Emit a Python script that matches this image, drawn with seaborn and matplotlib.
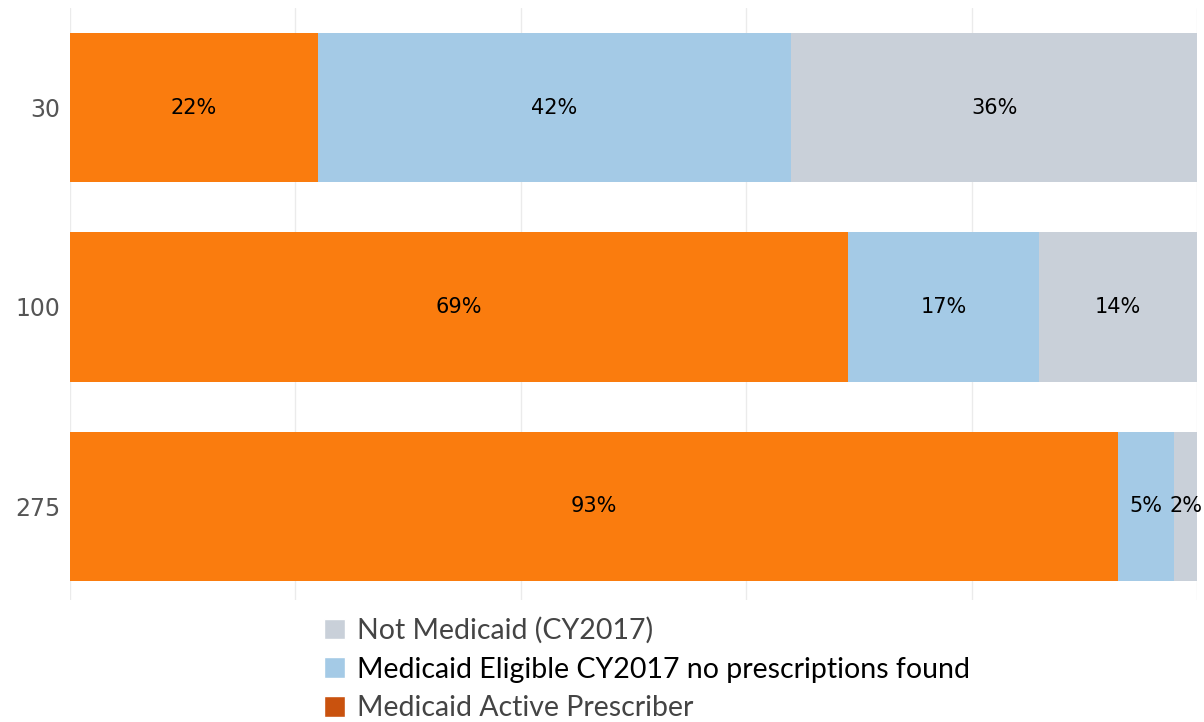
import numpy as np
import pandas as pd
import matplotlib
matplotlib.use("Agg")
import matplotlib.pyplot as plt
import seaborn as sns
from matplotlib.patches import Patch

# data (percent of prescribers per group)
groups = ["30", "100", "275"]
active = [22, 69, 93]
eligible = [42, 17, 5]
not_medicaid = [36, 14, 2]

series_names = ["Not Medicaid (CY2017)",
                "Medicaid Eligible CY2017 no prescriptions found",
                "Medicaid Active Prescriber"]

c_orange = "#FA7C0E"
c_blue = "#A4CAE6"
c_grey = "#C9D0D9"
c_legend_orange = "#C9520E"

df = pd.DataFrame({"group": groups, "active": active,
                   "eligible": eligible, "not_medicaid": not_medicaid})
df["cum_eligible"] = df["active"] + df["eligible"]
df["cum_total"] = df["cum_eligible"] + df["not_medicaid"]

sns.set_theme(style="white")
plt.rcParams["font.family"] = ["Open Sans", "DejaVu Sans"]

fig = plt.figure(figsize=(12.04, 7.22), dpi=100)
ax = fig.add_axes([70 / 1204, 1 - 600 / 722, 1127 / 1204, 592 / 722])

# stacked bars drawn back to front from cumulative totals
bar_kw = dict(orient="h", width=0.75, saturation=1, linewidth=0, ax=ax)
sns.barplot(data=df, x="cum_total", y="group", color=c_grey, zorder=2, **bar_kw)
sns.barplot(data=df, x="cum_eligible", y="group", color=c_blue, zorder=3, **bar_kw)
sns.barplot(data=df, x="active", y="group", color=c_orange, zorder=4, **bar_kw)

# segment labels
for i, row in df.iterrows():
    segs = [(0, row["active"]), (row["active"], row["eligible"]),
            (row["cum_eligible"], row["not_medicaid"])]
    for start, w in segs:
        ax.text(start + w / 2, i, f"{w}%", ha="center", va="center",
                fontsize=15, color="black", zorder=6,
                family=["DejaVu Sans"])

ax.set_xlim(0, 100)
ax.set_ylim(2.47, -0.5)
ax.set_xticks(np.arange(0, 101, 20))
ax.xaxis.grid(True, color="#EBEBEB", linewidth=1)
ax.set_axisbelow(True)
ax.tick_params(axis="x", labelbottom=False, length=0)
ax.tick_params(axis="y", length=0, labelsize=17, labelcolor="#555555", pad=7)
for lbl in ax.get_yticklabels():
    lbl.set_family(["DejaVu Sans"])
ax.set_xlabel("")
ax.set_ylabel("")
for s in ax.spines.values():
    s.set_visible(False)

handles = [Patch(facecolor=c_grey), Patch(facecolor=c_blue),
           Patch(facecolor=c_legend_orange)]
leg = fig.legend(handles, series_names, loc="upper left",
                 bbox_to_anchor=(324 / 1204, 1 - 617 / 722), frameon=False,
                 fontsize=20.5, handlelength=0.75, handleheight=0.75,
                 handletextpad=0.4, labelspacing=0.45, borderpad=0,
                 borderaxespad=0)
for t, col in zip(leg.get_texts(), ["#444444", "#000000", "#444444"]):
    t.set_color(col)
    t.set_family(["Lato", "DejaVu Sans"])

fig.savefig("out.png", dpi=100)
